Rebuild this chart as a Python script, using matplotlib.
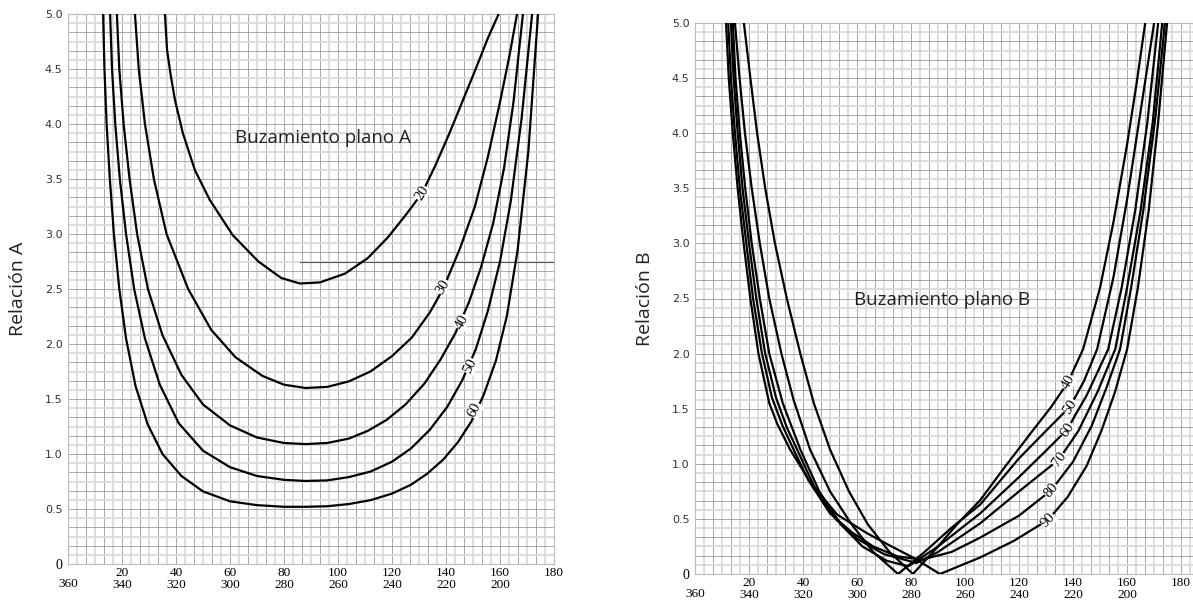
import numpy as np
import matplotlib.pyplot as plt

# ---- data ----
dips_a = [20, 30, 40, 50, 60]
curves_a = {
    20: ([35.9, 36.7, 38.0, 39.6, 42.5, 47.0, 52.5, 61.0, 70.5, 79.0, 85.9, 93.3, 102.6, 111.0, 118.5, 125.0, 131.1, 136.0, 141.0, 146.0, 151.0, 155.5, 159.5],
         [5.0, 4.67, 4.45, 4.22, 3.92, 3.58, 3.31, 2.99, 2.75, 2.60, 2.55, 2.56, 2.64, 2.78, 2.97, 3.17, 3.37, 3.62, 3.90, 4.20, 4.50, 4.78, 5.0]),
    30: ([24.8, 26.2, 28.5, 31.8, 36.5, 44.5, 53.0, 62.0, 72.0, 80.0, 88.0, 96.0, 104.0, 112.0, 120.0, 127.4, 134.1, 138.9, 145.2, 150.7, 155.5, 160.0, 163.5, 166.3],
         [5.0, 4.5, 4.0, 3.5, 3.0, 2.5, 2.13, 1.88, 1.71, 1.63, 1.60, 1.61, 1.66, 1.75, 1.89, 2.06, 2.29, 2.50, 2.87, 3.25, 3.70, 4.20, 4.62, 5.0]),
    40: ([18.1, 19.0, 20.6, 22.8, 25.6, 29.6, 35.0, 42.0, 50.0, 60.0, 70.0, 80.0, 88.0, 96.0, 104.0, 111.0, 118.0, 125.0, 132.0, 138.0, 143.5, 148.5, 153.0, 157.5, 161.5, 165.0, 168.5],
         [5.0, 4.5, 4.0, 3.5, 3.0, 2.5, 2.08, 1.72, 1.45, 1.26, 1.15, 1.10, 1.09, 1.10, 1.14, 1.21, 1.31, 1.45, 1.64, 1.86, 2.10, 2.38, 2.70, 3.10, 3.60, 4.20, 5.0]),
    50: ([15.6, 16.3, 17.5, 19.2, 21.5, 24.5, 28.5, 34.0, 41.0, 50.0, 60.0, 70.0, 80.0, 88.0, 96.0, 104.0, 112.0, 120.0, 127.0, 134.0, 140.5, 146.0, 151.0, 155.5, 160.0, 164.0, 168.0, 171.9],
         [5.0, 4.5, 4.0, 3.5, 3.0, 2.5, 2.05, 1.63, 1.28, 1.03, 0.88, 0.80, 0.765, 0.755, 0.76, 0.79, 0.84, 0.93, 1.05, 1.22, 1.43, 1.67, 1.95, 2.30, 2.75, 3.30, 4.05, 5.0]),
    60: ([13.0, 13.5, 14.3, 15.5, 17.0, 19.0, 21.5, 25.0, 29.5, 35.0, 42.0, 50.0, 60.0, 70.0, 80.0, 88.0, 96.0, 104.0, 112.0, 120.0, 127.0, 133.0, 139.0, 144.5, 149.5, 154.0, 158.5, 162.5, 166.5, 170.5, 174.1],
         [5.0, 4.5, 4.0, 3.5, 3.0, 2.5, 2.05, 1.62, 1.27, 1.0, 0.80, 0.66, 0.57, 0.535, 0.52, 0.52, 0.525, 0.545, 0.58, 0.64, 0.72, 0.82, 0.95, 1.11, 1.30, 1.54, 1.85, 2.25, 2.85, 3.75, 5.0]),
}
label_pos_a = {20: (131.1, 3.37), 30: (138.9, 2.52), 40: (145.9, 2.20), 50: (148.9, 1.80), 60: (150.7, 1.40)}
label_rot_a = {20: 58, 30: 60, 40: 62, 50: 64, 60: 64}

dips_b = [40, 50, 60, 70, 80, 90]
curves_b = {
    40: ([18.1, 20.5, 23.0, 26.0, 29.6, 34.0, 39.0, 44.0, 50.0, 57.0, 64.0, 72.0, 80.7, 90.0, 97.0, 105.6, 115.0, 125.0, 132.0, 138.1, 143.7, 150.0, 155.0, 160.0, 163.5, 166.7],
         [5.0, 4.5, 4.0, 3.5, 3.0, 2.5, 2.0, 1.55, 1.13, 0.75, 0.45, 0.20, 0.0, 0.25, 0.45, 0.67, 0.98, 1.30, 1.52, 1.74, 2.04, 2.60, 3.20, 3.90, 4.45, 5.0]),
    50: ([14.8, 16.5, 18.5, 21.0, 24.0, 27.5, 32.0, 36.5, 42.6, 50.0, 58.0, 66.0, 75.2, 85.0, 95.0, 105.6, 120.0, 130.0, 138.9, 144.0, 148.9, 155.0, 160.0, 165.0, 170.0],
         [5.0, 4.5, 4.0, 3.5, 3.0, 2.5, 2.0, 1.58, 1.13, 0.75, 0.45, 0.20, 0.0, 0.20, 0.42, 0.63, 1.05, 1.30, 1.52, 1.75, 2.04, 2.70, 3.40, 4.20, 5.0]),
    60: ([14.0, 15.0, 16.6, 18.6, 21.0, 24.0, 27.5, 32.5, 39.0, 46.0, 54.0, 62.0, 71.0, 79.0, 90.0, 105.6, 120.0, 130.0, 137.8, 141.0, 145.0, 153.0, 158.0, 163.0, 167.5, 171.5],
         [5.0, 4.5, 4.0, 3.5, 3.0, 2.5, 2.0, 1.55, 1.13, 0.75, 0.45, 0.25, 0.12, 0.07, 0.25, 0.55, 0.88, 1.12, 1.31, 1.45, 1.62, 2.04, 2.60, 3.30, 4.10, 5.0]),
    70: ([13.3, 14.3, 15.8, 17.6, 20.0, 22.7, 26.0, 30.0, 34.0, 37.8, 44.0, 52.0, 60.0, 70.0, 82.0, 90.0, 105.6, 120.0, 134.8, 142.0, 149.0, 155.6, 160.0, 165.0, 169.5, 173.0],
         [5.0, 4.5, 4.0, 3.5, 3.0, 2.5, 2.0, 1.60, 1.33, 1.13, 0.80, 0.50, 0.32, 0.18, 0.10, 0.20, 0.46, 0.75, 1.04, 1.30, 1.65, 2.04, 2.60, 3.30, 4.10, 5.0]),
    80: ([12.3, 13.3, 14.8, 16.6, 19.0, 21.5, 24.8, 28.5, 32.5, 36.5, 42.0, 50.0, 58.0, 66.0, 75.0, 84.0, 95.0, 105.6, 120.0, 131.9, 140.0, 147.0, 152.5, 157.4, 161.5, 166.0, 170.5, 174.0],
         [5.0, 4.5, 4.0, 3.5, 3.0, 2.5, 2.0, 1.60, 1.34, 1.13, 0.85, 0.55, 0.38, 0.25, 0.16, 0.13, 0.20, 0.33, 0.53, 0.76, 1.02, 1.35, 1.70, 2.04, 2.60, 3.30, 4.15, 5.0]),
    90: ([11.5, 12.5, 14.0, 15.8, 18.0, 20.5, 23.5, 27.5, 30.5, 35.2, 43.0, 52.6, 63.7, 72.0, 80.7, 90.7, 105.6, 118.0, 130.7, 138.0, 145.0, 150.5, 155.5, 160.0, 164.0, 168.0, 171.5, 174.8],
         [5.0, 4.5, 4.0, 3.5, 3.0, 2.5, 2.0, 1.55, 1.36, 1.13, 0.82, 0.54, 0.37, 0.26, 0.15, 0.0, 0.15, 0.30, 0.49, 0.70, 0.98, 1.30, 1.65, 2.04, 2.60, 3.30, 4.10, 5.0]),
}
label_pos_b = {40: (138.1, 1.74), 50: (138.9, 1.52), 60: (137.8, 1.31), 70: (134.8, 1.04), 80: (131.9, 0.76), 90: (130.7, 0.49)}
label_rot_b = {40: 60, 50: 58, 60: 56, 70: 54, 80: 50, 90: 46}

x_ticks = [0, 20, 40, 60, 80, 100, 120, 140, 160, 180]
x_top = ['', '20', '40', '60', '80', '100', '120', '140', '160', '180']
x_bot = ['360', '340', '320', '300', '280', '260', '240', '220', '200', '']
y_ticks = [0, 0.5, 1.0, 1.5, 2.0, 2.5, 3.0, 3.5, 4.0, 4.5, 5.0]


def setup(ax, xmax, ylab):
    ax.set_xlim(0, xmax)
    ax.set_ylim(0, 5.0)
    # graph-paper grid
    for i, gx in enumerate(np.arange(0, xmax + 0.01, 10 / 3)):
        if i % 2:
            ax.axvline(gx, color='#dadada', lw=1.3, zorder=0)
        else:
            ax.axvline(gx, color='#9a9a9a', lw=0.6, zorder=0)
    for i, gy in enumerate(np.arange(0, 5.001, 1 / 12)):
        if i % 2:
            ax.axhline(gy, color='#dadada', lw=1.3, zorder=0)
        else:
            ax.axhline(gy, color='#9a9a9a', lw=0.6, zorder=0)
    for s in ax.spines.values():
        s.set_color('#bbbbbb')
        s.set_linewidth(0.8)
    ax.set_xticks(x_ticks)
    labels = [f'{a}\n{b}' for a, b in zip(x_top, x_bot)]
    labels[0] = ''
    ax.set_xticklabels(labels, family='Liberation Serif', fontsize=9.5, linespacing=1.0)
    # lower-row label under the origin (the upper row there holds the y "0")
    ax.annotate(x_bot[0], xy=(x_ticks[0], 0), xycoords=('data', 'axes fraction'),
                xytext=(0, -10), textcoords='offset points', ha='center', va='top',
                family='Liberation Serif', fontsize=9.5)
    ax.set_yticks(y_ticks)
    ax.set_yticklabels(['0'] + [f'{v:.1f}' for v in y_ticks[1:]], fontsize=8, color='#333333')
    ax.get_yticklabels()[0].set_family('Liberation Serif')
    ax.get_yticklabels()[0].set_fontsize(10)
    ax.get_yticklabels()[0].set_color('black')
    ax.tick_params(axis='x', length=0, pad=2)
    ax.tick_params(axis='y', length=0, pad=4)
    ax.set_ylabel(ylab, fontsize=14, family='Open Sans', color='#222222', labelpad=13)


fig = plt.figure(figsize=(11.93, 6.01), dpi=100)
axa = fig.add_axes([68 / 1193, 37 / 601, 486 / 1193, 550 / 601])
axb = fig.add_axes([695 / 1193, 27 / 601, 498 / 1193, 551 / 601])

setup(axa, 180, 'Relación A')
setup(axb, 184.4, 'Relación B')

axa.plot([86, 180], [2.75, 2.75], color='#555555', lw=0.8, zorder=1)

for d in dips_a:
    xs, ys = curves_a[d]
    axa.plot(xs, ys, color='black', lw=1.6, zorder=3)
    lx, ly = label_pos_a[d]
    axa.text(lx, ly, str(d), rotation=label_rot_a[d], ha='center', va='center', fontsize=10.5,
             family='Liberation Serif', zorder=4,
             bbox=dict(facecolor='white', edgecolor='none', pad=0.3))

for d in dips_b:
    xs, ys = curves_b[d]
    axb.plot(xs, ys, color='black', lw=1.6, zorder=3)
    lx, ly = label_pos_b[d]
    axb.text(lx, ly, str(d), rotation=label_rot_b[d], ha='center', va='center', fontsize=10.5,
             family='Liberation Serif', zorder=4,
             bbox=dict(facecolor='white', edgecolor='none', pad=0.3))

axa.text(0.525, 0.775, 'Buzamiento plano A', transform=axa.transAxes, ha='center', va='center',
         fontsize=13.5, family='Open Sans', color='#222222')
axb.text(0.496, 0.497, 'Buzamiento plano B', transform=axb.transAxes, ha='center', va='center',
         fontsize=13.5, family='Open Sans', color='#222222')

fig.savefig('out.png', dpi=100)
